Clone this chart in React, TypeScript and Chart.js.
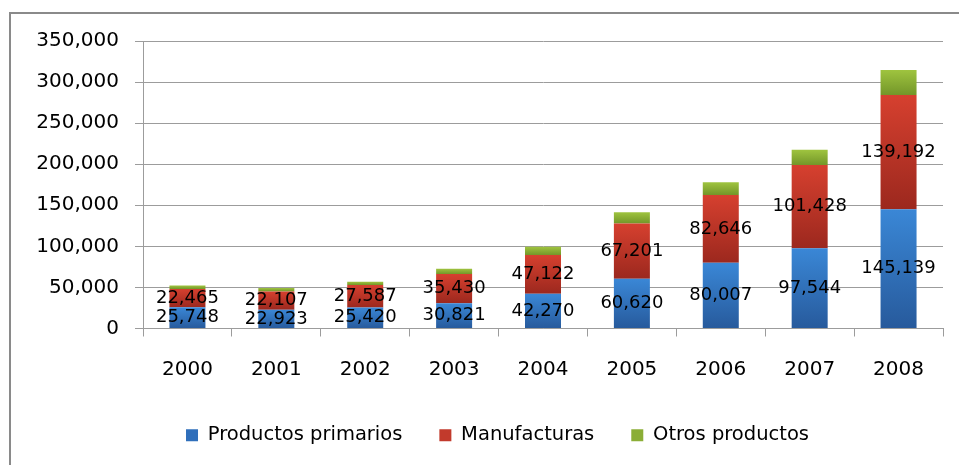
import React, { useEffect, useRef } from "react";
import { Chart, registerables } from "chart.js";

Chart.register(...registerables);

const years = ["2000", "2001", "2002", "2003", "2004", "2005", "2006", "2007", "2008"];
const primarios = [25748, 22923, 25420, 30821, 42270, 60620, 80007, 97544, 145139];
const manufacturas = [22465, 22107, 27587, 35430, 47122, 67201, 82646, 101428, 139192];
const otros = [4000, 4400, 3900, 6500, 10000, 13800, 15300, 18600, 30500];
const seriesNames = ["Productos primarios", "Manufacturas", "Otros productos"];
const yTicks = [0, 50000, 100000, 150000, 200000, 250000, 300000, 350000];

const seriesList = [primarios, manufacturas, otros];
const gradStops = [
  ["#3a87d6", "#275a9c"],
  ["#d6402f", "#9c281e"],
  ["#9fc43f", "#739629"],
];
const legendColors = ["#2f6fbb", "#c23a2c", "#8bae36"];

const FONT = "'DejaVu Sans', Verdana, sans-serif";
const fmt = (v: number) => v.toLocaleString("en-US");

function gradFor(di: number) {
  return (c: any) => {
    const chart = c.chart;
    const area = chart.chartArea;
    if (!area || c.type !== "data" || !chart.scales || !chart.scales.y) return gradStops[di][0];
    const i = c.dataIndex;
    const ys = chart.scales.y;
    let base = 0;
    for (let k = 0; k < di; k++) base += seriesList[k][i];
    const top = base + seriesList[di][i];
    const y0 = ys.getPixelForValue(top);
    const y1 = ys.getPixelForValue(base);
    if (!isFinite(y0) || !isFinite(y1) || y0 === y1) return gradStops[di][0];
    const g = chart.ctx.createLinearGradient(0, y0, 0, y1);
    g.addColorStop(0, gradStops[di][0]);
    g.addColorStop(1, gradStops[di][1]);
    return g;
  };
}

const labelPlugin = {
  id: "segLabels",
  afterLayout(chart: any) {
    const lg = chart.legend;
    if (lg) {
      lg.left += 26;
      lg.right += 26;
    }
  },
  afterDatasetsDraw(chart: any) {
    const ctx = chart.ctx;
    ctx.save();
    ctx.font = `18px ${FONT}`;
    ctx.fillStyle = "#000";
    ctx.textAlign = "center";
    ctx.textBaseline = "middle";
    [0, 1].forEach((di) => {
      const meta = chart.getDatasetMeta(di);
      meta.data.forEach((el: any, i: number) => {
        const p = el.getProps(["x", "y", "base"], true);
        ctx.fillText(fmt(seriesList[di][i]), p.x, (p.y + p.base) / 2);
      });
    });
    ctx.restore();
  },
};

export default function App() {
  const ref = useRef<HTMLCanvasElement>(null);
  useEffect(() => {
    if (!ref.current) return;
    const chart = new Chart(ref.current, {
      type: "bar",
      data: {
        labels: years,
        datasets: seriesList.map((d, di) => ({
          label: seriesNames[di],
          data: d,
          backgroundColor: gradFor(di),
          borderWidth: 0,
          categoryPercentage: 1,
          barPercentage: 0.405,
        })),
      },
      options: {
        responsive: false,
        animation: false,
        layout: { padding: { left: 0, right: 16, top: 41, bottom: 10 } },
        plugins: {
          tooltip: { enabled: false },
          legend: {
            position: "bottom",
            labels: {
              font: { family: FONT, size: 19.5 },
              color: "#000",
              boxWidth: 12,
              boxHeight: 12,
              padding: 37,
              generateLabels: () =>
                seriesNames.map((n, di) => ({
                  text: n,
                  fillStyle: legendColors[di],
                  strokeStyle: legendColors[di],
                  lineWidth: 0,
                  hidden: false,
                  datasetIndex: di,
                })),
            },
          },
        },
        scales: {
          x: {
            stacked: true,
            afterFit: (s: any) => {
              s.height = 60;
            },
            grid: {
              offset: true,
              drawOnChartArea: false,
              drawTicks: true,
              tickLength: 8,
              color: "#9c9c9c",
              lineWidth: 1,
            },
            border: { display: true, color: "#9c9c9c", width: 1 },
            ticks: { font: { family: FONT, size: 20 }, color: "#000", padding: 21 },
          },
          y: {
            stacked: true,
            min: 0,
            max: 350000,
            afterFit: (s: any) => {
              s.width = 143;
            },
            afterBuildTicks: (s: any) => {
              s.ticks = yTicks.map((v) => ({ value: v }));
            },
            grid: {
              color: "#9c9c9c",
              lineWidth: 1,
              drawTicks: true,
              tickLength: 8,
            },
            border: { display: true, color: "#9c9c9c", width: 1 },
            ticks: {
              font: { family: FONT, size: 20 },
              color: "#000",
              padding: 16,
              callback: (v: any) => fmt(Number(v)),
            },
          },
        },
      },
      plugins: [labelPlugin],
    });
    return () => chart.destroy();
  }, []);

  return (
    <div>
      <div
        style={{
          position: "fixed",
          left: 9,
          top: 12,
          width: 1000,
          height: 1000,
          border: "2px solid #8a8a8a",
          boxSizing: "border-box",
        }}
      />
      <canvas
        ref={ref}
        width={959}
        height={465}
        style={{ position: "fixed", left: 0, top: 0, width: 959, height: 465 }}
      />
    </div>
  );
}
